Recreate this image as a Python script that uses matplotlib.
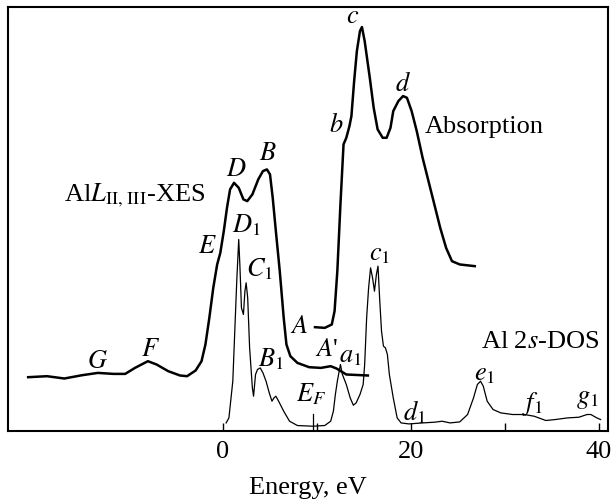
import numpy as np
import matplotlib.pyplot as plt

plt.rcParams['font.family'] = 'serif'
plt.rcParams['font.serif'] = ['Liberation Serif', 'DejaVu Serif']
plt.rcParams['mathtext.fontset'] = 'stix'

# Al L_II,III X-ray emission (energy in eV, intensity in arbitrary units)
xes_e = [-20.75, -18.75, -16.9, -15.0, -13.33, -11.67, -10.42, -9.375, -8.0, -7.08,
         -5.83, -4.58, -3.83, -2.92, -2.29, -1.875, -1.46, -1.04, -0.625, -0.29,
         0.08, 0.42, 0.75, 1.17, 1.67, 2.17, 2.58, 3.125, 3.75, 4.25,
         4.67, 5.0, 5.29, 5.625, 6.04, 6.46, 6.75, 7.17, 7.92, 9.17,
         10.42, 11.46, 12.08, 13.125, 15.42]
xes_i = [54, 55, 52.7, 56, 58.3, 57.3, 57.3, 63.3, 70, 66.7,
         60, 55.7, 55, 60.7, 70, 86.7, 113.3, 143.3, 166.7, 178.3,
         200, 223.3, 241.7, 248.3, 243.3, 231.7, 230, 236.7, 251.7, 260,
         261.7, 256.7, 233.3, 200, 160, 113.3, 86.7, 75, 68.3, 64,
         63.3, 65, 62.7, 56.7, 55.7]

# absorption spectrum
abs_e = [9.79, 10.83, 11.58, 11.875, 12.17, 12.5, 12.83, 13.125, 13.46, 13.67,
         13.96, 14.25, 14.58, 14.79, 15.08, 15.625, 16.04, 16.46, 17.0, 17.42,
         17.83, 18.125, 18.67, 19.17, 19.58, 20.08, 20.625, 21.25, 21.875, 22.5,
         23.125, 23.75, 24.375, 25.2, 26.8]
abs_i = [104, 103.3, 106.7, 120, 160, 226.7, 286.7, 293.3, 305, 315,
         350, 380, 400, 404, 390, 353.3, 323.3, 301.7, 293.3, 293.3,
         303.3, 320, 330, 335, 333.3, 320, 300, 273.3, 250, 226.7,
         203.3, 183.3, 170, 166.7, 165]

# Al 2s density of states
dos_e = [0.33, 0.625, 1.04, 1.25, 1.46, 1.67, 1.79, 1.96, 2.17, 2.33,
         2.46, 2.625, 2.83, 3.125, 3.25, 3.46, 3.67, 3.96, 4.25, 4.58,
         4.92, 5.21, 5.42, 5.625, 5.92, 6.46, 7.08, 7.92, 9.58, 10.83,
         11.46, 11.75, 11.96, 12.17, 12.5, 12.71, 13.125, 13.54, 13.875, 14.17,
         14.58, 14.92, 15.08, 15.29, 15.5, 15.71, 15.92, 16.125, 16.33, 16.5,
         16.67, 16.875, 17.08, 17.29, 17.5, 17.71, 18.125, 18.54, 18.96, 19.79,
         21.25, 22.5, 23.33, 24.17, 25.2, 26.04, 26.67, 27.08, 27.42, 27.71,
         28.125, 28.75, 29.58, 30.83, 32.08, 33.125, 34.375, 35.4, 36.67, 37.9,
         38.75, 39.17, 39.8, 40.2]
dos_i = [8.3, 13.3, 50, 100, 150, 191.7, 166.7, 123.3, 116.7, 140,
         148.3, 133.3, 83.3, 43.3, 35, 56.7, 61.7, 63.3, 58.3, 50,
         38.3, 30, 33.3, 35, 30, 20, 10, 5.7, 5, 5.7,
         10, 20, 36.7, 50, 66.7, 56.7, 46.7, 33.3, 26, 28.3,
         36.7, 46.7, 66.7, 113.3, 143.3, 163.3, 153.3, 140, 156.7, 165,
         133.3, 100, 85, 83.3, 76.7, 56.7, 33.3, 13.3, 8.3, 7.3,
         8.3, 9, 10, 8.3, 9.3, 16.7, 33.3, 46.7, 50, 45,
         30, 21.7, 18.3, 16.7, 16.7, 15, 10.7, 11.7, 13.3, 14,
         16.7, 16.7, 13.3, 11.7]

e_fermi = 9.55
tick_pos = [0, 10, 20, 30, 40]
tick_lab = ['0', '', '20', '', '40']

fig = plt.figure(figsize=(6.13, 5.02), dpi=100)
ax = fig.add_axes([0.013, 0.139, 0.979, 0.845])

ax.plot(xes_e, xes_i, color='black', lw=1.8)
ax.plot(abs_e, abs_i, color='black', lw=1.8)
ax.plot(dos_e, dos_i, color='black', lw=0.9)
ax.plot([e_fermi, e_fermi], [0, 17], color='black', lw=0.9)

ax.set_xlim(-22.9, 41.0)
ax.set_ylim(0, 424)
ax.set_yticks([])
ax.set_xticks(tick_pos)
ax.set_xticklabels(tick_lab)
ax.tick_params(axis='x', direction='in', length=6, width=1, labelsize=19, pad=6)
for s in ax.spines.values():
    s.set_linewidth(1.5)

ax.set_xlabel('Energy, eV', fontsize=19)
ax.xaxis.set_label_coords(0.5, -0.106)

fs = 19
ax.text(-16.9, 237, r'Al$L_{\mathrm{II,\,III}}$-XES', fontsize=fs, ha='left', va='center')
ax.text(21.5, 305, 'Absorption', fontsize=fs, ha='left', va='center')
ax.text(27.5, 90, r'Al 2$s$-DOS', fontsize=fs, ha='left', va='center')

labels = [
    (r'$D$', 1.46, 262), (r'$B$', 4.8, 278), (r'$E$', -1.67, 185),
    (r'$D_1$', 2.5, 207), (r'$C_1$', 3.9, 163), (r'$A$', 8.1, 105),
    (r'$G$', -13.4, 70), (r'$F$', -7.7, 82), (r'$B_1$', 5.1, 73),
    (r"$A$'", 11.0, 82), (r'$a_1$', 13.6, 75), (r'$E_F$', 9.4, 38),
    (r'$c$', 13.75, 415), (r'$b$', 12.1, 307), (r'$d$', 19.2, 348),
    (r'$c_1$', 16.7, 177), (r'$e_1$', 27.9, 57), (r'$d_1$', 20.4, 20),
    (r'$f_1$', 32.9, 28), (r'$g_1$', 38.75, 32),
]
for txt, xe, yv in labels:
    ax.text(xe, yv, txt, fontsize=fs, ha='center', va='center')

fig.savefig('out.png', dpi=100)
